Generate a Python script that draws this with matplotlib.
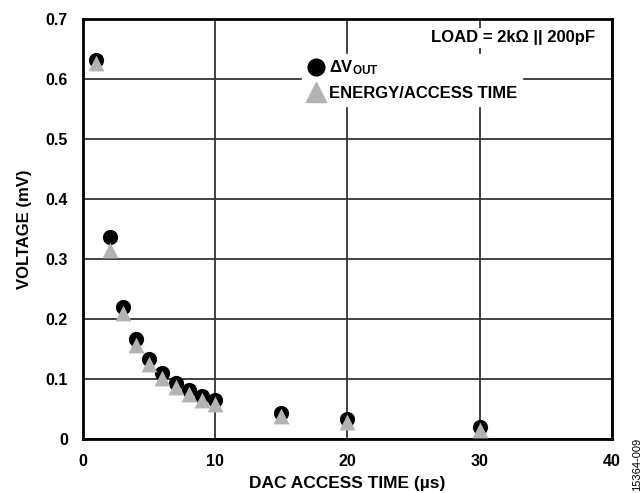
import matplotlib
matplotlib.use("Agg")
import matplotlib.pyplot as plt
from matplotlib.lines import Line2D

plt.rcParams['font.family'] = ['Liberation Sans', 'DejaVu Sans']
plt.rcParams['font.weight'] = 'bold'
plt.rcParams['mathtext.fontset'] = 'custom'
plt.rcParams['mathtext.rm'] = 'Liberation Sans:bold'
plt.rcParams['mathtext.bf'] = 'Liberation Sans:bold'
plt.rcParams['mathtext.it'] = 'Liberation Sans:bold'

access_time = [1, 2, 3, 4, 5, 6, 7, 8, 9, 10, 15, 20, 30]
delta_vout = [0.632, 0.337, 0.220, 0.167, 0.133, 0.110, 0.093, 0.082, 0.072, 0.065, 0.043, 0.033, 0.020]
energy_per_time = [0.627, 0.315, 0.210, 0.157, 0.125, 0.102, 0.087, 0.075, 0.065, 0.058, 0.038, 0.028, 0.015]

x_ticks = [0, 10, 20, 30, 40]
y_ticks = [0, 0.1, 0.2, 0.3, 0.4, 0.5, 0.6, 0.7]

fig = plt.figure(figsize=(6.44, 4.93), dpi=100)
ax = fig.add_axes([0.129, 0.1095, 0.821, 0.852])

ax.scatter(access_time, delta_vout, s=120, marker='o', color='black', zorder=3, linewidths=0)
ax.scatter(access_time, energy_per_time, s=130, marker='^', color='#b3b3b3', zorder=4, linewidths=0)

ax.set_xlim(0, 40)
ax.set_ylim(0, 0.7)
ax.set_xticks(x_ticks)
ax.set_yticks(y_ticks)
ax.set_xticklabels([str(v) for v in x_ticks])
ax.set_yticklabels([f"{v:g}" if v == 0 else f"{v:.1f}" for v in y_ticks])
ax.tick_params(length=0, labelsize=11.5)
ax.tick_params(axis='y', pad=11)
ax.tick_params(axis='x', pad=11)
for lab in ax.get_xticklabels() + ax.get_yticklabels():
    lab.set_fontweight('bold')

ax.grid(True, color='#333333', linewidth=1.3, zorder=0)
ax.set_axisbelow(True)
for sp in ax.spines.values():
    sp.set_linewidth(2)
    sp.set_color('black')

ax.set_xlabel('DAC ACCESS TIME (µs)', fontsize=12.5, fontweight='bold', labelpad=5)
ax.set_ylabel('VOLTAGE (mV)', fontsize=12, fontweight='bold', labelpad=10)

ax.text(0.968, 0.955, 'LOAD = 2kΩ || 200pF', transform=ax.transAxes, ha='right', va='center',
        fontsize=12, fontweight='bold', zorder=5,
        bbox=dict(facecolor='white', edgecolor='none', pad=2))

handles = [
    Line2D([], [], marker='o', linestyle='none', color='black', markersize=12),
    Line2D([], [], marker='^', linestyle='none', color='#b3b3b3', markersize=14),
]
labels = [r'$\Delta$V$_{\mathrm{OUT}}$', 'ENERGY/ACCESS TIME']
leg = ax.legend(handles, labels, loc='upper left', bbox_to_anchor=(0.399, 0.937),
                frameon=True, fancybox=False, framealpha=1, edgecolor='white',
                handlelength=1.0, handletextpad=0.3, labelspacing=0.53,
                borderpad=0.3, prop={'size': 12, 'weight': 'bold'})
leg.set_zorder(6)

fig.text(0.99, 0.057, '15364-009', rotation=90, fontsize=8, fontweight='normal',
         ha='center', va='center')

fig.savefig('out.png', dpi=100)
